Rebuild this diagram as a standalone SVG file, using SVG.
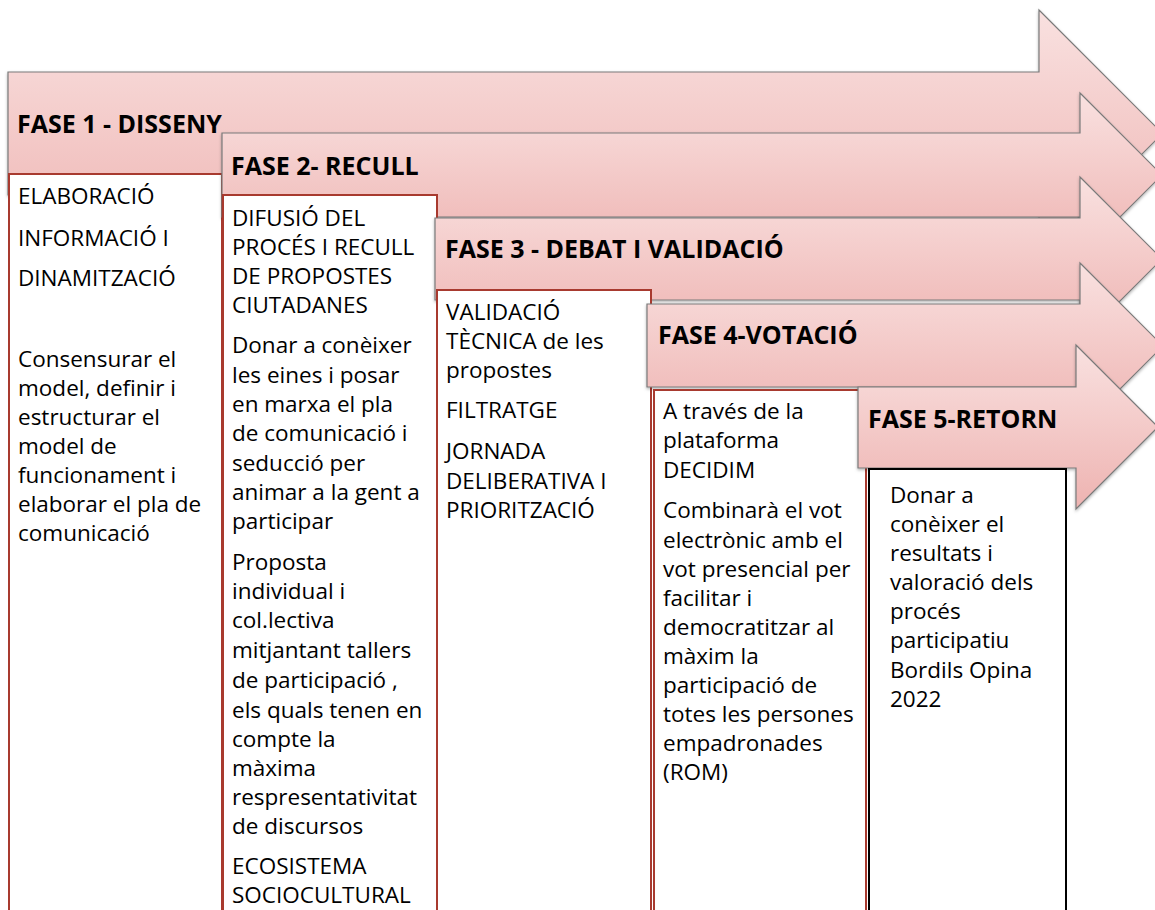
<svg xmlns="http://www.w3.org/2000/svg" width="1155" height="910" viewBox="0 0 1155 910">
<defs>
<linearGradient id="pink" x1="0" y1="0" x2="0" y2="1">
<stop offset="0" stop-color="#f9e1e0"/>
<stop offset="1" stop-color="#eeb3b1"/>
</linearGradient>
<filter id="sh" x="-5%" y="-10%" width="110%" height="125%">
<feDropShadow dx="0" dy="1.5" stdDeviation="1.5" flood-color="#000" flood-opacity="0.3"/>
</filter>
<style>
.arrow{fill:url(#pink);stroke:#7a7a7a;stroke-width:1.2;filter:url(#sh)}
.box{fill:#fff;stroke:#a83a2f;stroke-width:2}
.box5{fill:#fff;stroke:#000;stroke-width:2}
.hd{font-family:"Open Sans","Liberation Sans",sans-serif;font-weight:bold;font-size:25px;fill:#000}
.tx{font-family:"Open Sans","Liberation Sans",sans-serif;font-size:22.5px;fill:#000}
</style>
</defs>
<rect width="1155" height="910" fill="#fff"/>
<g id="fase1">
<path class="arrow" d="M8,72 H1039 V10 L1162.5,133.5 L1039,257 V195 H8 Z"/>
<text class="hd" x="17" y="133">FASE 1 - DISSENY</text>
<rect class="box" x="9" y="174" width="213" height="760"/>
<text class="tx" x="18" y="204">ELABORACIÓ</text>
<text class="tx" x="18" y="246">INFORMACIÓ I</text>
<text class="tx" x="18" y="286">DINAMITZACIÓ</text>
<text class="tx" x="18" y="367">Consensurar el</text>
<text class="tx" x="18" y="396">model, definir i</text>
<text class="tx" x="18" y="425">estructurar el</text>
<text class="tx" x="18" y="454">model de</text>
<text class="tx" x="18" y="483">funcionament i</text>
<text class="tx" x="18" y="512">elaborar el pla de</text>
<text class="tx" x="18" y="541">comunicació</text>
</g>
<g id="fase2">
<path class="arrow" d="M222,133 H1080 V93 L1162,175 L1080,257 V217 H222 Z"/>
<text class="hd" x="231" y="175">FASE 2- RECULL</text>
<rect class="box" x="223" y="195" width="214" height="740"/>
<text class="tx" x="232" y="226">DIFUSIÓ DEL</text>
<text class="tx" x="232" y="255">PROCÉS I RECULL</text>
<text class="tx" x="232" y="284">DE PROPOSTES</text>
<text class="tx" x="232" y="313">CIUTADANES</text>
<text class="tx" x="232" y="353">Donar a conèixer</text>
<text class="tx" x="232" y="383">les eines i posar</text>
<text class="tx" x="232" y="412">en marxa el pla</text>
<text class="tx" x="232" y="441">de comunicació i</text>
<text class="tx" x="232" y="471">seducció per</text>
<text class="tx" x="232" y="500">animar a la gent a</text>
<text class="tx" x="232" y="529">participar</text>
<text class="tx" x="232" y="570">Proposta</text>
<text class="tx" x="232" y="599">individual i</text>
<text class="tx" x="232" y="628">col.lectiva</text>
<text class="tx" x="232" y="658">mitjantant tallers</text>
<text class="tx" x="232" y="688">de participació ,</text>
<text class="tx" x="232" y="718">els quals tenen en</text>
<text class="tx" x="232" y="747">compte la</text>
<text class="tx" x="232" y="776">màxima</text>
<text class="tx" x="232" y="805">respresentativitat</text>
<text class="tx" x="232" y="834">de discursos</text>
<text class="tx" x="232" y="874">ECOSISTEMA</text>
<text class="tx" x="232" y="903">SOCIOCULTURAL</text>
</g>
<g id="fase3">
<path class="arrow" d="M435,218 H1080 V177 L1162,259 L1080,341 V300 H435 Z"/>
<text class="hd" x="445" y="258">FASE 3 - DEBAT I VALIDACIÓ</text>
<rect class="box" x="437" y="290" width="214" height="650"/>
<text class="tx" x="446" y="320">VALIDACIÓ</text>
<text class="tx" x="446" y="349">TÈCNICA de les</text>
<text class="tx" x="446" y="378">propostes</text>
<text class="tx" x="446" y="418">FILTRATGE</text>
<text class="tx" x="446" y="459">JORNADA</text>
<text class="tx" x="446" y="489">DELIBERATIVA I</text>
<text class="tx" x="446" y="518">PRIORITZACIÓ</text>
</g>
<g id="fase4">
<path class="arrow" d="M647,304 H1080 V263 L1163,346 L1080,429 V387 H647 Z"/>
<text class="hd" x="658" y="344">FASE 4-VOTACIÓ</text>
<rect class="box" x="654" y="390" width="212" height="550"/>
<text class="tx" x="663" y="419">A través de la</text>
<text class="tx" x="663" y="448">plataforma</text>
<text class="tx" x="663" y="478">DECIDIM</text>
<text class="tx" x="663" y="518">Combinarà el vot</text>
<text class="tx" x="663" y="548">electrònic amb el</text>
<text class="tx" x="663" y="577">vot presencial per</text>
<text class="tx" x="663" y="606">facilitar i</text>
<text class="tx" x="663" y="635">democratitzar al</text>
<text class="tx" x="663" y="664">màxim la</text>
<text class="tx" x="663" y="693">participació de</text>
<text class="tx" x="663" y="722">totes les persones</text>
<text class="tx" x="663" y="751">empadronades</text>
<text class="tx" x="663" y="780">(ROM)</text>
</g>
<g id="fase5">
<path class="arrow" d="M858,387 H1076 V345 L1158,427 L1076,509 V468 H858 Z"/>
<text class="hd" x="868" y="428">FASE 5-RETORN</text>
<rect class="box5" x="869" y="469" width="197" height="470"/>
<text class="tx" x="890" y="503">Donar a</text>
<text class="tx" x="890" y="532">conèixer el</text>
<text class="tx" x="890" y="561">resultats i</text>
<text class="tx" x="890" y="590">valoració dels</text>
<text class="tx" x="890" y="619">procés</text>
<text class="tx" x="890" y="648">participatiu</text>
<text class="tx" x="890" y="678">Bordils Opina</text>
<text class="tx" x="890" y="707">2022</text>
</g>
<g id="connectors"/>
</svg>
